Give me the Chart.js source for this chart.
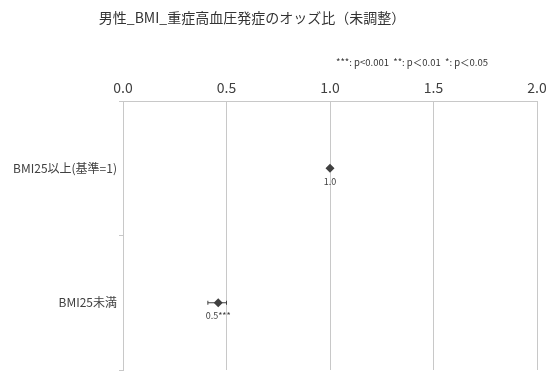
<!DOCTYPE html>
<html>
<head>
<meta charset="utf-8">
<script src="https://cdn.jsdelivr.net/npm/chart.js@4.4.0/dist/chart.umd.min.js"></script>
<style>
html,body{margin:0;padding:0;background:#fff;}
#wrap{width:546px;height:376px;position:relative;}
</style>
</head>
<body>
<div id="wrap"><canvas id="c" width="546" height="376"></canvas></div>
<script>
const chartTitle = '男性_BMI_重症高血圧発症のオッズ比（未調整）';
const noteText = '***: p<0.001  **: p＜0.01  *: p＜0.05';
const categories = ['BMI25以上(基準=1)', 'BMI25未満'];
const oddsRatios = [1.0, 0.46];
const ciLower = [1.0, 0.41];
const ciUpper = [1.0, 0.50];
const pointLabels = ['1.0', '0.5***'];
const xMin = 0, xMax = 2, xStep = 0.5;

const FONT = '"Noto Sans CJK JP", "Noto Sans", sans-serif';
const TEXT = '#404040';
const MARK = '#404040';

const errorBars = {
  id: 'errorBars',
  beforeDatasetsDraw(chart) {
    const {ctx, scales: {x, y}} = chart;
    ctx.save();
    ctx.strokeStyle = MARK;
    ctx.lineWidth = 1;
    categories.forEach((c, i) => {
      if (ciLower[i] === ciUpper[i]) return;
      const py = y.getPixelForValue(i);
      const x1 = x.getPixelForValue(ciLower[i]);
      const x2 = x.getPixelForValue(ciUpper[i]);
      ctx.beginPath();
      ctx.moveTo(x1, py); ctx.lineTo(x2, py);
      ctx.moveTo(x1, py - 2); ctx.lineTo(x1, py + 2);
      ctx.moveTo(x2, py - 2); ctx.lineTo(x2, py + 2);
      ctx.stroke();
    });
    ctx.restore();
  },
  afterDatasetsDraw(chart) {
    const {ctx, scales: {x, y}} = chart;
    ctx.save();
    ctx.fillStyle = TEXT;
    ctx.font = '9px ' + FONT;
    ctx.textAlign = 'center';
    ctx.textBaseline = 'middle';
    categories.forEach((c, i) => {
      const px = x.getPixelForValue(oddsRatios[i]);
      const py = y.getPixelForValue(i);
      ctx.fillText(pointLabels[i], px, py + 13);
    });
    ctx.restore();
  },
  afterDraw(chart) {
    const {ctx} = chart;
    ctx.save();
    ctx.fillStyle = '#333';
    ctx.textBaseline = 'middle';
    ctx.textAlign = 'center';
    ctx.font = '14px ' + FONT;
    ctx.fillText(chartTitle, 252, 18);
    ctx.textAlign = 'right';
    ctx.font = '9.5px ' + FONT;
    ctx.fillText(noteText, 488, 62);
    ctx.restore();
  }
};

new Chart(document.getElementById('c'), {
  type: 'scatter',
  data: {
    labels: categories,
    datasets: [{
      data: categories.map((c, i) => ({x: oddsRatios[i], y: c})),
      pointStyle: 'rectRot',
      pointRadius: 4.5,
      pointHoverRadius: 4.5,
      backgroundColor: MARK,
      borderColor: MARK,
      borderWidth: 0
    }]
  },
  options: {
    responsive: false,
    animation: false,
    layout: {padding: {top: 0, right: 9, bottom: 6, left: 0}},
    plugins: {legend: {display: false}, tooltip: {enabled: false}, title: {display: false}},
    scales: {
      x: {
        type: 'linear',
        position: 'top',
        min: xMin, max: xMax,
        afterFit(s) { s.height = 101; s.paddingLeft = 0; s.paddingRight = 0; },
        ticks: {
          stepSize: xStep,
          callback: v => Number(v).toFixed(1),
          color: TEXT,
          font: {family: FONT, size: 14},
          padding: 5
        },
        grid: {color: '#c8c8c8', lineWidth: 1, drawTicks: false, tickLength: 0},
        border: {color: '#c8c8c8'}
      },
      y: {
        type: 'category',
        labels: categories,
        offset: true,
        afterFit(s) { s.width = 123; s.paddingTop = 0; s.paddingBottom = 0; },
        ticks: {color: TEXT, font: {family: FONT, size: 12}, padding: 2},
        grid: {drawOnChartArea: false, offset: true, drawTicks: true, tickLength: 4, color: '#c8c8c8'},
        border: {color: '#c8c8c8'}
      }
    }
  },
  plugins: [errorBars]
});
</script>
</body>
</html>
